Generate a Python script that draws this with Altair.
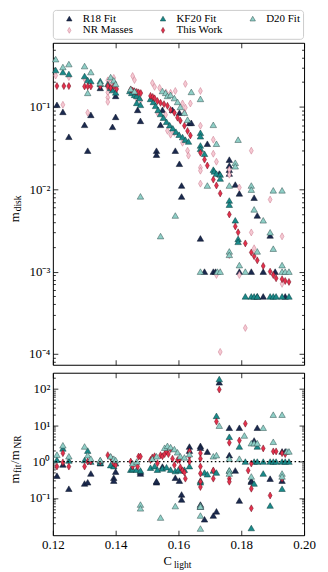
import altair as alt
import pandas as pd

FONT = "Liberation Serif"

# ---------------- data: top panel (C_light, m_disk) ----------------
r18_top = [(0.1213,0.106),(0.1232,0.087),(0.1251,0.0434),(0.1301,0.0606),(0.1311,0.0294),(0.1321,0.080),
           (0.1351,0.17),(0.1390,0.0573),(0.1400,0.136),(0.1400,0.0757),(0.1470,0.092),(0.1479,0.0677),
           (0.1530,0.0294),(0.1530,0.0263),(0.1543,0.0606),(0.1549,0.092),(0.1581,0.092),(0.1590,0.0294),
           (0.1603,0.085),(0.1603,0.0204),(0.1610,0.0111),(0.1610,0.00816),(0.1635,0.064),(0.1641,0.064),
           (0.1670,0.00253),(0.1683,0.001),(0.1692,0.0357),(0.1711,0.001),(0.1718,0.001),(0.1730,0.0155),
           (0.1762,0.0229),(0.1762,0.0194),(0.1762,0.0173),(0.1762,0.0155),(0.1781,0.0114),(0.1794,0.0089),
           (0.1794,0.001),(0.1832,0.001),(0.1841,0.0079),(0.1851,0.00481),(0.1851,0.0005),(0.1870,0.001),
           (0.1870,0.0005),(0.1892,0.00275),(0.1908,0.001),(0.1940,0.0005)]
nr_top = [(0.1209,0.240),(0.1232,0.106),(0.1251,0.230),(0.1301,0.220),(0.1311,0.085),
          (0.1375,0.210),(0.1375,0.170),(0.1375,0.150),(0.1375,0.130),(0.1375,0.115),(0.1384,0.195),
          (0.1394,0.225),(0.1400,0.160),(0.1454,0.237),(0.1460,0.212),(0.1467,0.125),(0.1479,0.120),
          (0.1517,0.195),(0.1524,0.175),(0.1540,0.170),(0.1560,0.150),(0.1575,0.148),(0.1590,0.156),
          (0.1533,0.085),(0.1559,0.080),(0.1565,0.0513),(0.1575,0.046),(0.1587,0.0485),(0.1613,0.0367),
          (0.1629,0.0294),(0.1632,0.0256),(0.1622,0.190),(0.1613,0.110),(0.1622,0.098),(0.1619,0.085),
          (0.1638,0.110),(0.1670,0.156),(0.1670,0.059),(0.1711,0.040),(0.1711,0.027),(0.1721,0.0216),
          (0.1670,0.0183),(0.1670,0.0168),(0.1670,0.0117),(0.1762,0.0173),(0.1762,0.015),(0.1794,0.0105),
          (0.1832,0.0294),(0.1892,0.0075),(0.1832,0.00299),(0.1930,0.00268),(0.1762,0.00158),
          (0.1841,0.00192),(0.1721,0.00091),(0.1794,0.00091),(0.1930,0.00071),(0.1813,0.000207),
          (0.1733,0.000106)]
kf20_top = [(0.1209,0.280),(0.1232,0.265),(0.1251,0.251),(0.1301,0.237),(0.1311,0.212),(0.1321,0.206),
            (0.1351,0.206),(0.1351,0.190),(0.1375,0.190),(0.1384,0.170),(0.1390,0.160),(0.1400,0.150),
            (0.1445,0.156),(0.1451,0.148),(0.1460,0.140),(0.1467,0.136),(0.1476,0.128),(0.1467,0.112),
            (0.1479,0.106),(0.1511,0.125),(0.1520,0.115),(0.1527,0.103),(0.1535,0.092),(0.1543,0.082),
            (0.1552,0.074),(0.1562,0.066),(0.1572,0.060),(0.1582,0.055),(0.1592,0.050),(0.1602,0.046),
            (0.1613,0.043),(0.1622,0.040),(0.1632,0.038),(0.1670,0.0485),(0.1670,0.044),(0.1670,0.034),
            (0.1670,0.031),(0.1683,0.027),(0.1711,0.0173),(0.1714,0.0165),(0.1721,0.0155),(0.1733,0.0151),
            (0.1733,0.0135),(0.1762,0.0073),(0.1762,0.0065),(0.1781,0.0042),(0.1790,0.0025),(0.1790,0.0023),
            (0.1813,0.0005),(0.1832,0.0005),(0.1841,0.0005),(0.1851,0.0005),(0.1892,0.0005),(0.1902,0.0005),
            (0.1911,0.0005),(0.1930,0.0005),(0.1952,0.0005)]
this_top = [(0.1213,0.179),(0.1235,0.179),(0.1251,0.179),(0.1301,0.177),(0.1311,0.177),(0.1321,0.177),
            (0.1351,0.179),(0.1375,0.179),(0.1384,0.170),(0.1394,0.179),(0.1403,0.165),(0.1448,0.163),
            (0.1454,0.158),(0.1460,0.155),(0.1467,0.152),(0.1473,0.150),(0.1480,0.147),(0.1511,0.136),
            (0.1518,0.132),(0.1524,0.127),(0.1533,0.118),(0.1543,0.112),(0.1554,0.108),(0.1565,0.103),
            (0.1575,0.092),(0.1587,0.085),(0.1597,0.074),(0.1606,0.068),(0.1619,0.059),(0.1629,0.051),
            (0.1638,0.045),(0.1670,0.0278),(0.1683,0.0229),(0.1692,0.0194),(0.1711,0.0131),(0.1721,0.0111),
            (0.1733,0.0089),(0.1762,0.00494),(0.1781,0.00354),(0.1790,0.0030),(0.1813,0.0022),
            (0.1832,0.00171),(0.1841,0.00154),(0.1851,0.00137),(0.1870,0.00117),(0.1892,0.0010),
            (0.1902,0.00091),(0.1911,0.00083),(0.1930,0.00081),(0.1940,0.00077),(0.1952,0.00075)]
d20_top = [(0.1209,0.380),(0.1232,0.305),(0.1251,0.331),(0.1301,0.313),(0.1321,0.265),(0.1311,0.148),
           (0.1351,0.195),(0.1384,0.230),(0.1394,0.210),(0.1400,0.190),(0.1448,0.165),(0.1460,0.155),
           (0.1549,0.156),(0.1559,0.148),(0.1565,0.136),(0.1575,0.140),(0.1587,0.128),(0.1597,0.115),
           (0.1606,0.100),(0.1619,0.085),(0.1629,0.070),(0.1641,0.152),(0.1670,0.125),(0.1479,0.0082),
           (0.1590,0.0048),(0.1543,0.0027),(0.1711,0.0606),(0.1721,0.0357),(0.1790,0.040),(0.1692,0.0111),
           (0.1762,0.0111),(0.1781,0.021),(0.1781,0.019),(0.1832,0.0111),(0.1832,0.0099),(0.1841,0.0057),
           (0.1870,0.0042),(0.1902,0.0097),(0.1930,0.0097),(0.1762,0.00176),(0.1762,0.0016),
           (0.1851,0.00176),(0.1892,0.0030),(0.1902,0.0019),(0.1794,0.0012),(0.1930,0.0012),
           (0.1670,0.001),(0.1724,0.001),(0.1733,0.001),(0.1813,0.001),(0.1930,0.001),(0.1940,0.001),
           (0.1952,0.001)]

# ---------------- data: bottom panel (C_light, m_fit / m_NR) ----------------
r18_bot = [(0.1213,0.41),(0.1232,0.83),(0.1251,0.18),(0.1301,0.25),(0.1311,0.27),(0.1321,0.47),(0.1351,0.90),
           (0.1394,0.36),(0.1394,0.30),(0.1400,0.53),(0.1479,0.53),(0.1479,0.47),(0.1530,0.27),(0.1530,0.29),
           (0.1549,0.73),(0.1590,0.36),(0.1603,0.30),(0.1610,0.125),(0.1610,0.091),(0.1635,2.58),(0.1635,2.0),
           (0.1670,2.7),(0.1670,2.4),(0.1670,0.066),(0.1670,0.058),(0.1683,0.026),(0.1692,1.88),(0.1711,0.033),
           (0.1721,0.043),(0.1730,150),(0.1762,8.5),(0.1762,1.5),(0.1781,0.57),(0.1794,8.5),(0.1794,0.085),
           (0.1832,0.30),(0.1832,0.28),(0.1841,3.8),(0.1851,8.5),(0.1892,0.34),(0.1930,1.9),(0.1940,1.9),
           (0.1930,0.30)]
kf20_bot = [(0.1213,1.13),(0.1232,2.3),(0.1251,1.07),(0.1301,1.1),(0.1311,2.0),(0.1321,1.0),(0.1351,0.94),
            (0.1351,1.07),(0.1384,0.80),(0.1394,0.75),(0.1400,0.90),(0.1448,0.60),(0.1454,0.62),(0.1467,0.60),
            (0.1479,0.57),(0.1511,0.68),(0.1524,0.75),(0.1533,0.60),(0.1549,0.65),(0.1562,0.70),(0.1575,0.60),
            (0.1590,0.55),(0.1600,0.60),(0.1609,0.57),(0.1619,0.60),(0.1635,0.75),(0.1670,0.30),(0.1670,0.27),
            (0.1683,0.50),(0.1692,0.45),(0.1711,0.57),(0.1721,0.50),(0.1721,18.0),(0.1730,185),(0.1762,4.8),
            (0.1762,0.57),(0.1794,2.6),(0.1813,1.0),(0.1832,0.015),(0.1841,0.25),(0.1841,1.0),(0.1851,2.6),
            (0.1851,1.0),(0.1870,0.47),(0.1870,1.0),(0.1892,0.062),(0.1892,1.0),(0.1902,1.0),(0.1911,1.0),
            (0.1930,0.18),(0.1930,1.0),(0.1940,1.0),(0.1952,1.0)]
this_bot = [(0.1213,0.73),(0.1232,1.7),(0.1232,0.95),(0.1251,0.73),(0.1301,0.73),(0.1311,1.0),(0.1321,1.0),
            (0.1351,1.0),(0.1375,1.5),(0.1384,1.3),(0.1390,1.1),(0.1394,0.9),(0.1400,0.8),(0.1448,1.0),
            (0.1454,0.73),(0.1470,0.73),(0.1473,1.37),(0.1479,1.37),(0.1511,1.1),(0.1517,1.3),(0.1524,1.4),
            (0.1533,0.9),(0.1543,1.5),(0.1549,1.4),(0.1556,1.6),(0.1562,1.9),(0.1568,1.6),(0.1575,2.2),
            (0.1581,1.2),(0.1587,0.8),(0.1597,1.1),(0.1603,1.1),(0.1606,0.7),(0.1613,0.57),(0.1619,0.5),
            (0.1622,0.34),(0.1635,1.9),(0.1635,1.4),(0.1635,1.0),(0.1670,1.7),(0.1670,1.2),(0.1670,0.73),
            (0.1670,0.47),(0.1670,0.28),(0.1670,0.20),(0.1711,0.57),(0.1711,0.34),(0.1721,12.5),(0.1730,95),
            (0.1762,3.3),(0.1762,0.34),(0.1762,0.28),(0.1794,3.8),(0.1813,11.0),(0.1832,0.88),(0.1822,0.57),
            (0.1832,0.18),(0.1832,0.052),(0.1870,2.3),(0.1892,0.117),(0.1902,1.9),(0.1911,1.9),(0.1930,1.7),
            (0.1940,1.6),(0.1930,0.34)]
d20_bot = [(0.1213,1.55),(0.1232,2.8),(0.1251,1.4),(0.1301,2.6),(0.1311,1.5),(0.1321,1.2),(0.1351,1.1),
           (0.1384,1.4),(0.1394,1.2),(0.1400,1.1),(0.1454,0.9),(0.1467,1.0),(0.1479,0.066),(0.1479,0.052),
           (0.1517,1.2),(0.1530,1.4),(0.1543,0.029),(0.1556,2.4),(0.1565,2.7),(0.1575,2.5),(0.1587,2.2),
           (0.1597,1.8),(0.1606,1.4),(0.1619,1.3),(0.1590,0.060),(0.1635,1.6),(0.1670,0.062),(0.1670,0.058),
           (0.1670,0.033),(0.1670,0.0145),(0.1711,1.4),(0.1721,1.5),(0.1730,9.7),(0.1762,1.2),(0.1762,0.57),
           (0.1762,0.47),(0.1794,1.2),(0.1810,5.2),(0.1832,3.2),(0.1841,3.2),(0.1851,3.2),(0.1832,0.39),
           (0.1870,8.5),(0.1902,3.5),(0.1902,19.4),(0.1930,19.4),(0.1930,0.47),(0.1930,0.39),(0.1945,1.9),
           (0.1952,1.9)]

# ---------------- labels / ticks ----------------
# legend order (column-major, as in the reference): R18, NR | KF20, This Work | D20
SERIES = ["R18 Fit", "NR Masses", "KF20 Fit", "This Work", "D20 Fit"]
FILLS = ["#1b2a4f", "#f6c9d3", "#1a8a8a", "#e5304c", "#8fcfc7"]
STROKES = ["#0b1226", "#c8788c", "#0d3d3d", "#6b0f1e", "#2f4f4c"]
TRI = "triangle-up"
DIAM = "M0,-1.08L0.6,0L0,1.08L-0.6,0Z"
SHAPES = [TRI, DIAM, TRI, DIAM, TRI]
x_ticks = [0.12, 0.14, 0.16, 0.18, 0.20]
top_major = [1e-4, 1e-3, 1e-2, 1e-1]
bot_major = [0.1, 1.0, 10.0, 100.0]
top_dom = [7.4e-5, 0.6]
bot_dom = [0.0095, 275.0]
top_title = ["m", "disk"]
bot_title = ["m", "fit", "/m", "NR"]
x_title = ["C", "light"]
ref_line = [1.0]


def minors(lo, hi):
    out = []
    for e in range(-6, 4):
        for j in range(2, 10):
            v = float(f"{j}e{e}")
            if lo < v < hi:
                out.append(v)
    return out


def frame(pairs, name):
    return pd.DataFrame({"c": [p[0] for p in pairs], "v": [p[1] for p in pairs], "series": name})


top_df = pd.concat([frame(r18_top, "R18 Fit"), frame(nr_top, "NR Masses"), frame(kf20_top, "KF20 Fit"),
                    frame(this_top, "This Work"), frame(d20_top, "D20 Fit")], ignore_index=True)
bot_df = pd.concat([frame(r18_bot, "R18 Fit"), frame(kf20_bot, "KF20 Fit"),
                    frame(this_bot, "This Work"), frame(d20_bot, "D20 Fit")], ignore_index=True)

W = 252
XS = alt.Scale(domain=[0.12, 0.20], nice=False, zero=False)

LEG = alt.Legend(title=None, orient="none", legendX=0, legendY=-33, columns=3, columnPadding=16,
                 rowPadding=0, padding=3, strokeColor="#cccccc", cornerRadius=3, fillColor="white",
                 labelFont=FONT, labelFontSize=11, labelColor="black", symbolSize=30,
                 symbolStrokeWidth=0.5, symbolOffset=8, labelOffset=8, labelLimit=200)
FILL_S = alt.Scale(domain=SERIES, range=FILLS)
STROKE_S = alt.Scale(domain=SERIES, range=STROKES)
SHAPE_S = alt.Scale(domain=SERIES, range=SHAPES)


def axis(orient, values, size, labels=False, expr=None, fmt=None):
    kw = dict(orient=orient, values=values, tickSize=size, offset=-size, domain=False, grid=False,
              labels=labels, title=None, tickColor="black", tickWidth=0.8)
    if labels:
        kw.update(labelFont=FONT, labelFontSize=13, labelColor="black", labelPadding=3,
                  labelFlush=False, labelOverlap=False, labelBound=False)
    if expr:
        kw["labelExpr"] = expr
    if fmt:
        kw["format"] = fmt
    return alt.Axis(**kw)


def text_piece(txt, x, y, size):
    return alt.Chart(pd.DataFrame({"t": [txt]})).mark_text(
        font=FONT, fontSize=size, angle=270, align="left", baseline="alphabetic", color="black"
    ).encode(text="t:N", x=alt.value(x), y=alt.value(y))


def panel(df, ys, ymaj, ymin, expr, height, xlabels, extra):
    pts = alt.Chart(df).mark_point(filled=True, opacity=1, size=42, strokeWidth=0.5).encode(
        x=alt.X("c:Q", scale=XS, axis=axis("bottom", x_ticks, 5, labels=xlabels, fmt=".2f")),
        y=alt.Y("v:Q", scale=ys, axis=axis("left", ymaj, 5, labels=True, expr=expr)),
        fill=alt.Fill("series:N", scale=FILL_S, legend=LEG),
        stroke=alt.Stroke("series:N", scale=STROKE_S, legend=LEG),
        shape=alt.Shape("series:N", scale=SHAPE_S, legend=LEG),
    )
    anchor = pd.DataFrame({"c": [0.16], "v": [ymaj[1]]})

    def ghost(xax, yax):
        return alt.Chart(anchor).mark_point(opacity=0).encode(
            x=alt.X("c:Q", scale=XS, axis=xax), y=alt.Y("v:Q", scale=ys, axis=yax))

    g1 = ghost(axis("top", x_ticks, 5), axis("right", ymaj, 5))
    g2 = ghost(None, axis("left", ymin, 2.5))
    g3 = ghost(None, axis("right", ymin, 2.5))
    return alt.layer(pts, g1, g2, g3, *extra).resolve_axis(x="independent", y="independent").properties(
        width=W, height=height)


ys_top = alt.Scale(type="log", domain=top_dom, nice=False)
ys_bot = alt.Scale(type="log", domain=bot_dom, nice=False)

top_expr = ("datum.value < 0.0005 ? '10⁻⁴' : datum.value < 0.005 ? '10⁻³' : "
            "datum.value < 0.05 ? '10⁻²' : '10⁻¹'")
bot_expr = ("datum.value < 0.5 ? '10⁻¹' : datum.value < 5 ? '10⁰' : "
            "datum.value < 50 ? '10¹' : '10²'")

TX = -34      # baseline of the rotated y titles, relative to the plot's left edge
top_extra = [text_piece(top_title[0], TX, 180, 13), text_piece(top_title[1], TX + 2.5, 169, 9.5)]

rule = alt.Chart(pd.DataFrame({"v": ref_line})).mark_rule(
    color="black", strokeDash=[1.5, 2.5], strokeWidth=1.3
).encode(y=alt.Y("v:Q", scale=ys_bot, axis=None))

xt = [
    alt.Chart(pd.DataFrame({"t": [x_title[0]]})).mark_text(
        font=FONT, fontSize=12.5, align="left", baseline="alphabetic", color="black"
    ).encode(text="t:N", x=alt.value(111), y=alt.value(193)),
    alt.Chart(pd.DataFrame({"t": [x_title[1]]})).mark_text(
        font=FONT, fontSize=9.5, align="left", baseline="alphabetic", color="black"
    ).encode(text="t:N", x=alt.value(121.5), y=alt.value(196)),
]
bot_extra = [rule,
             text_piece(bot_title[0], TX, 111, 13), text_piece(bot_title[1], TX + 2.5, 100.5, 9.5),
             text_piece(bot_title[2], TX, 91.5, 13), text_piece(bot_title[3], TX + 2.5, 76, 9.5)] + xt

top = panel(top_df, ys_top, top_major, minors(*top_dom), top_expr, 323, False, top_extra)
bot = panel(bot_df, ys_bot, bot_major, minors(*bot_dom), bot_expr, 163, True, bot_extra)

chart = alt.vconcat(top, bot, spacing=6).properties(
    padding={"left": 0, "top": 0, "right": 4, "bottom": 0}, background="white"
).configure_view(stroke="black", strokeWidth=1)

chart.save("out.html", embed_options={"renderer": "svg", "actions": False})
